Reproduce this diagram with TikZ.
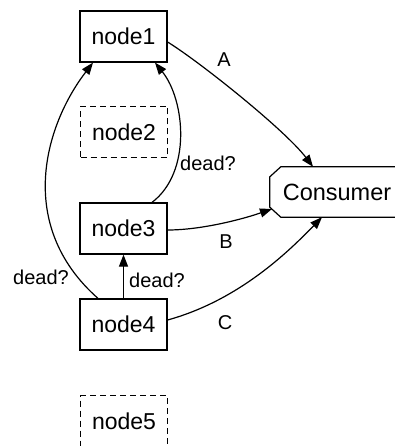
\documentclass[tikz,border=0pt]{standalone}
\usepackage{fontspec}
\setmainfont{Liberation Sans}
\usetikzlibrary{arrows.meta,calc}
\begin{document}
\begin{tikzpicture}[x=1pt,y=-1pt,
  box/.style={draw,line width=1.2pt,minimum width=87pt,minimum height=51pt,inner sep=0pt,font=\fontsize{23}{26}\selectfont},
  ghost/.style={box,dashed,dash pattern=on 6pt off 4pt},
  cons/.style={minimum width=142pt,minimum height=50pt,inner sep=0pt,font=\fontsize{23.5}{26}\selectfont},
  outline/.style={line width=1.2pt},
  edge/.style={line width=1.2pt,-{Triangle[length=12pt,width=9pt]}},
  lab/.style={font=\fontsize{20}{24}\selectfont,inner sep=0pt}]
\useasboundingbox (0,0) rectangle (395,446);
\clip (0,0) rectangle (395,446);
\node[box] (n1) at (123.5,36.5) {node1};
\node[ghost] (n2) at (124,132) {node2};
\node[box] (n3) at (123.5,228.5) {node3};
\node[box] (n4) at (123.5,324.5) {node4};
\node[ghost] (n5) at (124,421) {node5};
\node[cons] (c) at (341,192) {\hspace*{-8pt}Consumer};
\draw[outline] ($(c.north west)+(11,0)$) -- ($(c.north east)+(-11,0)$) -- ($(c.north east)+(0,10)$)
  -- ($(c.south east)+(0,-10)$) -- ($(c.south east)+(-11,0)$) -- ($(c.south west)+(11,0)$)
  -- ($(c.south west)+(0,-10)$) -- ($(c.north west)+(0,10)$) -- cycle;
\draw[edge] (n1.east |- 0,42) .. controls (200,62) and (285,130) .. (c.north west -| 313,0);
\draw[edge] (n3.north -| 152,0) .. controls (192,172) and (185,100) .. (n1.south -| 155,0);
\draw[edge] (n4.north -| 98,0) .. controls (15,225) and (45,125) .. (n1.south -| 93,0);
\draw[edge] (n4.north) -- (n3.south);
\draw[edge] (n3.east |- 0,230) .. controls (200,230) and (240,220) .. (272,209);
\draw[edge] (n4.east |- 0,320) .. controls (240,300) and (290,250) .. (c.south -| 322,0);
\node[lab] (la) at (224,60) {A};
\node[lab] (lb) at (226,242) {B};
\node[lab] (lc) at (225,323) {C};
\node[lab] (ld1) at (208,163) {dead?};
\node[lab] (ld2) at (41,277) {dead?};
\node[lab] (ld3) at (157,280) {dead?};
\end{tikzpicture}
\end{document}
